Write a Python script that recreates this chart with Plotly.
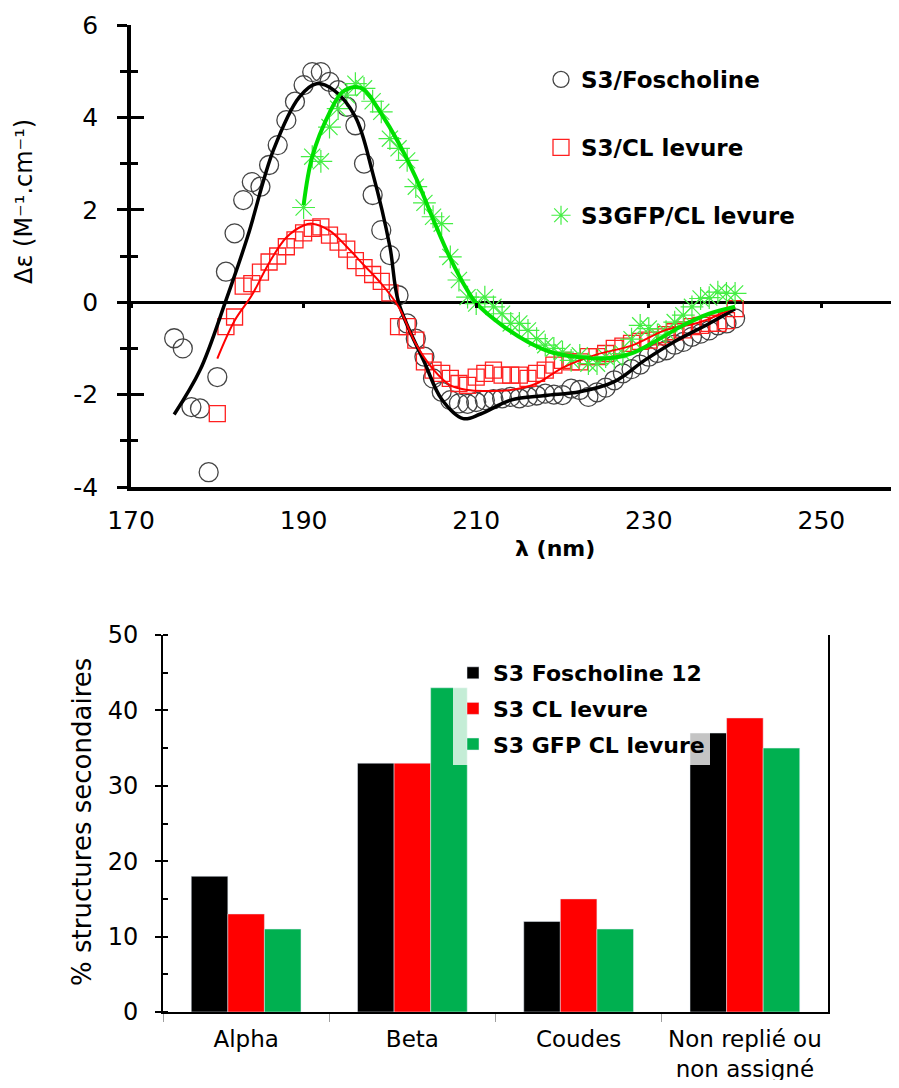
import plotly.graph_objects as go

# ---- CD spectra (top panel) ----
wl_fos = list(range(175, 241))
cd_fos = [-0.78, -1.0, -2.27, -2.3, -3.68, -1.62, 0.66, 1.49, 2.21, 2.60,
          2.50, 2.97, 3.40, 3.94, 4.34, 4.70, 4.98, 4.98, 4.77, 4.59,
          4.23, 3.83, 3.0, 2.32, 1.56, 1.02, 0.15, -0.46, -0.79, -1.18,
          -1.65, -1.94, -2.12, -2.19, -2.2, -2.16, -2.12, -2.1, -2.08, -2.05,
          -2.08, -2.05, -2.02, -1.98, -2.0, -2.01, -1.87, -1.9, -2.05, -1.95,
          -1.85, -1.69, -1.54, -1.45, -1.35, -1.18, -1.1, -1.04, -0.92, -0.86,
          -0.75, -0.68, -0.61, -0.5, -0.46, -0.35]

wl_cl = list(range(180, 241))
cd_cl = [-2.41, -0.53, -0.32, 0.35, 0.40, 0.65, 0.87, 1.0, 1.2, 1.35,
         1.5, 1.6, 1.63, 1.45, 1.3, 1.15, 0.9, 0.75, 0.6, 0.45,
         0.2, -0.53, -0.53, -0.82, -1.29, -1.47, -1.54, -1.65, -1.76, -1.80,
         -1.62, -1.54, -1.47, -1.58, -1.58, -1.58, -1.65, -1.54, -1.47, -1.36,
         -1.26, -1.29, -1.29, -1.18, -1.18, -1.11, -1.0, -0.95, -0.89, -0.85,
         -0.82, -0.75, -0.7, -0.64, -0.6, -0.53, -0.5, -0.46, -0.46, -0.4,
         -0.14]

wl_gfp = list(range(190, 241))
cd_gfp = [2.05, 3.15, 3.05, 3.79, 4.19, 4.48, 4.73, 4.63, 4.35, 4.12,
          3.54, 3.33, 3.07, 2.5, 2.15, 1.85, 1.7, 0.98, 0.48, 0.11,
          -0.03, 0.11, -0.1, -0.25, -0.46, -0.46, -0.61, -0.79, -0.93, -1.0,
          -1.08, -1.26, -1.15, -1.33, -1.33, -1.18, -1.2, -1.11, -0.8, -0.5,
          -0.57, -0.71, -0.64, -0.43, -0.28, -0.1, 0.08, 0.1, 0.22, 0.19,
          0.19]

# fitted curves
fit_fos_wl = [175, 178, 181, 183.5, 186.5, 189.5, 191.5, 193.5, 196, 198, 200, 201,
              204, 206, 208.5, 210.5, 214, 218, 222, 226, 229.5, 233, 237, 240]
fit_fos = [-2.43, -1.47, 0.04, 1.41, 3.29, 4.44, 4.73, 4.59, 4.01, 2.8, 1.2, 0.0,
           -1.3, -2.1, -2.52, -2.42, -2.12, -2.02, -1.94, -1.72, -1.26, -0.85, -0.46, -0.14]

fit_cl_wl = [180, 182, 184, 186, 188, 190, 191, 193, 195, 197, 199, 201, 203,
             205, 207, 209, 211, 214, 217, 220, 224, 228, 232, 236, 240]
fit_cl = [-1.22, -0.4, 0.15, 0.85, 1.4, 1.66, 1.7, 1.55, 1.2, 0.8, 0.4, -0.1, -0.9,
          -1.45, -1.8, -1.9, -1.92, -1.9, -1.76, -1.42, -1.13, -0.94, -0.6, -0.43, -0.1]

fit_gfp_wl = [190, 191, 193, 194.5, 196, 197, 199, 201, 203, 205, 207, 209, 210,
              213, 216, 219, 222, 225, 228, 231, 234, 237, 240]
fit_gfp = [2.1, 3.15, 4.1, 4.55, 4.66, 4.6, 4.08, 3.45, 2.7, 1.8, 0.95, 0.25, -0.02,
           -0.5, -0.86, -1.1, -1.19, -1.22, -1.11, -0.82, -0.5, -0.25, -0.1]

x_ticks = [170, 190, 210, 230, 250]
y_ticks = [-4, -2, 0, 2, 4, 6]
y_ticktext = ["-4", "-2", "0", "2", "4", "6"]

# ---- secondary structure (bottom panel) ----
categories = ["Alpha", "Beta", "Coudes", "Non replié ou<br>non assigné"]
fos12 = [18, 33, 12, 37]
cl_lev = [13, 33, 15, 39]
gfp_cl = [11, 43, 11, 35]

FONT = "DejaVu Sans"
# the page body has an 8px margin, so the figure is 16px smaller than the window
FW, FH = 883, 1072


def X(px):
    return (px - 8) / FW


def Y(py):
    return 1 - (py - 8) / FH


fig = go.Figure()

# markers
fig.add_trace(go.Scatter(x=wl_fos, y=cd_fos, mode="markers", name="S3/Foscholine",
                         legendgroup="a",
                         marker=dict(symbol="circle-open", size=19, color="#444444",
                                     line=dict(width=1.3, color="#444444"))))
fig.add_trace(go.Scatter(x=wl_cl, y=cd_cl, mode="markers", name="S3/CL levure",
                         legendgroup="b",
                         marker=dict(symbol="square-open", size=16, color="#ff2020",
                                     line=dict(width=1.3, color="#ff2020"))))
fig.add_trace(go.Scatter(x=wl_gfp, y=cd_gfp, mode="markers", name="S3GFP/CL levure",
                         legendgroup="c",
                         marker=dict(symbol="asterisk-open", size=19, color="#44ee44",
                                     line=dict(width=1.2, color="#44ee44"))))
# fits
fig.add_trace(go.Scatter(x=fit_fos_wl, y=fit_fos, mode="lines", showlegend=False,
                         line=dict(color="black", width=3.5, shape="spline")))
fig.add_trace(go.Scatter(x=fit_cl_wl, y=fit_cl, mode="lines", showlegend=False,
                         line=dict(color="#ff0000", width=2, shape="spline")))
fig.add_trace(go.Scatter(x=fit_gfp_wl, y=fit_gfp, mode="lines", showlegend=False,
                         line=dict(color="#00e000", width=4, shape="spline")))
# dummy trace so the overlay axes get drawn
fig.add_trace(go.Scatter(x=[None], y=[None], xaxis="x2", yaxis="y2",
                         showlegend=False, hoverinfo="skip"))

# bars
fig.add_trace(go.Bar(x=categories, y=fos12, name="S3 Foscholine 12", marker_color="#000000",
                     xaxis="x3", yaxis="y3", legend="legend2", legendgroup="d"))
fig.add_trace(go.Bar(x=categories, y=cl_lev, name="S3 CL levure", marker_color="#ff0000",
                     xaxis="x3", yaxis="y3", legend="legend2", legendgroup="e"))
fig.add_trace(go.Bar(x=categories, y=gfp_cl, name="S3 GFP CL levure", marker_color="#00b050",
                     xaxis="x3", yaxis="y3", legend="legend2", legendgroup="f"))

top_dom = [Y(487), Y(25)]
bot_dom = [Y(1012), Y(635)]
xr = [170, 170 + (891 - 131) / 8.63]
yr = [-4, 6]

fig.update_layout(
    width=FW, height=FH,
    margin=dict(l=0, r=0, t=0, b=0),
    paper_bgcolor="white", plot_bgcolor="white",
    font=dict(family=FONT, color="black"),
    barmode="group", bargap=0.34, bargroupgap=0,
    xaxis=dict(domain=[X(131), 1], range=xr, tickvals=x_ticks, ticks="",
               showline=True, linecolor="black", linewidth=3.5, showgrid=False,
               zeroline=False, tickfont=dict(size=25), ticklabelstandoff=8,
               anchor="y", automargin=False),
    yaxis=dict(domain=top_dom, range=yr, tickvals=y_ticks, ticktext=y_ticktext,
               ticks="outside", ticklen=10, tickwidth=3, tickcolor="black",
               minor=dict(dtick=1, ticks="outside", ticklen=7, tickwidth=3, tickcolor="black"),
               showline=True, linecolor="black", linewidth=3.5, showgrid=False,
               zeroline=True, zerolinecolor="black", zerolinewidth=3,
               tickfont=dict(size=25), ticklabelstandoff=14, anchor="x", automargin=False),
    xaxis2=dict(overlaying="x", anchor="free",
                position=top_dom[0] + 0.4 * (top_dom[1] - top_dom[0]),
                range=xr, tickvals=x_ticks, ticks="outside", ticklen=5, tickwidth=3,
                tickcolor="black", showticklabels=False, showline=False,
                showgrid=False, zeroline=False),
    yaxis2=dict(overlaying="y", anchor="x", side="left", range=yr, dtick=2,
                ticks="inside", ticklen=13, tickwidth=3, tickcolor="black",
                minor=dict(dtick=1, ticks="inside", ticklen=7, tickwidth=3, tickcolor="black"),
                showticklabels=False, showline=False, showgrid=False, zeroline=False),
    xaxis3=dict(domain=[X(163), X(828)], anchor="y3", type="category",
                showline=True, linecolor="black", linewidth=2, ticks="outside",
                tickson="boundaries", ticklen=8, tickcolor="#a0a0a0", tickwidth=1,
                tickfont=dict(size=23), ticklabelstandoff=5, showgrid=False,
                automargin=False),
    yaxis3=dict(domain=bot_dom, anchor="x3", range=[0, 50], dtick=10,
                ticks="outside", ticklen=6, tickwidth=2, tickcolor="black",
                minor=dict(dtick=5, ticks="inside", ticklen=5, tickwidth=2, tickcolor="black"),
                showline=True, mirror=True, linecolor="black", linewidth=2,
                showgrid=False, zeroline=False, tickfont=dict(size=24),
                ticklabelstandoff=12, automargin=False),
    legend=dict(x=X(541), y=Y(58), xanchor="left", yanchor="top",
                bgcolor="rgba(255,255,255,0)", tracegroupgap=35,
                font=dict(family=FONT, size=23, color="black", weight="bold")),
    legend2=dict(x=X(453), y=Y(652), xanchor="left", yanchor="top",
                 bgcolor="rgba(255,255,255,0.77)", tracegroupgap=4,
                 font=dict(family=FONT, size=22, color="black", weight="bold")),
    annotations=[
        dict(text="Δε (M⁻¹.cm⁻¹)", x=X(24), y=Y(202),
             xref="paper", yref="paper", xanchor="center", yanchor="middle",
             textangle=-90, showarrow=False, font=dict(size=24)),
        dict(text="<b>λ (nm)</b>", x=X(555), y=Y(548), xref="paper", yref="paper",
             xanchor="center", yanchor="middle", showarrow=False, font=dict(size=22)),
        dict(text="% structures secondaires", x=X(82), y=Y(822),
             xref="paper", yref="paper", xanchor="center", yanchor="middle",
             textangle=-90, showarrow=False, font=dict(size=26)),
    ],
)

fig.write_html("out.html")
